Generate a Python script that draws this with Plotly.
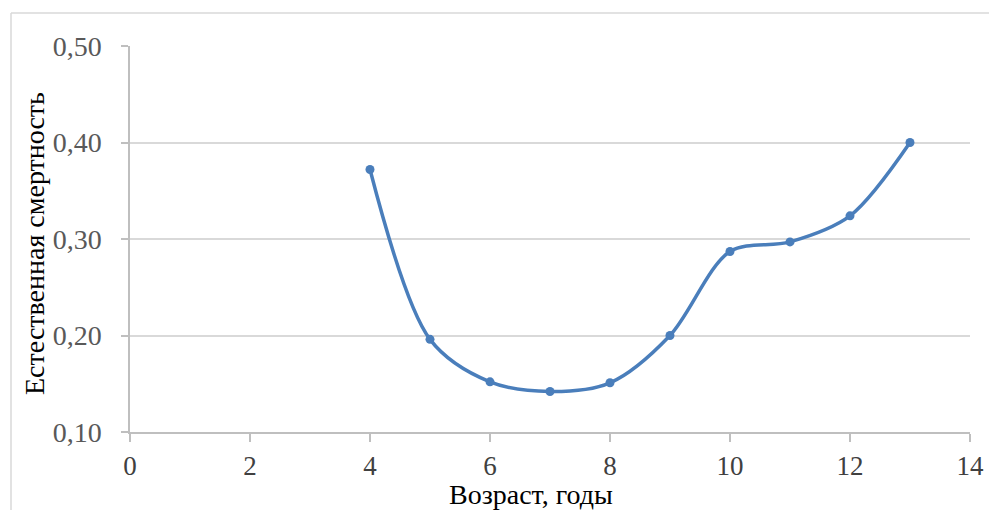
import plotly.graph_objects as go

age = [4, 5, 6, 7, 8, 9, 10, 11, 12, 13]
mortality = [0.372, 0.196, 0.152, 0.142, 0.151, 0.200, 0.287, 0.297, 0.324, 0.400]
x_ticks = [0, 2, 4, 6, 8, 10, 12, 14]
y_ticks = [0.10, 0.20, 0.30, 0.40, 0.50]
y_labels = ["0,10", "0,20", "0,30", "0,40", "0,50"]

FONT = "Liberation Serif, Times New Roman, serif"
BLUE = "#4a7ebb"

fig = go.Figure()
fig.add_trace(go.Scatter(
    x=age, y=mortality, mode="lines+markers",
    line=dict(color=BLUE, width=3.5, shape="spline", smoothing=0.9),
    marker=dict(color=BLUE, size=9),
    showlegend=False, cliponaxis=False, hoverinfo="skip",
))

fig.update_layout(
    width=989, height=510, autosize=False,
    margin=dict(l=130, r=19, t=46, b=78, pad=0),
    paper_bgcolor="white", plot_bgcolor="white",
    font=dict(family=FONT),
    xaxis=dict(
        range=[0, 14], tickvals=x_ticks, ticktext=[str(v) for v in x_ticks],
        showgrid=False, zeroline=False, automargin=False,
        showline=True, linecolor="#bfbfbf", linewidth=1.5,
        ticks="outside", ticklen=8, tickcolor="#bfbfbf", tickwidth=1.5,
        tickfont=dict(size=27, color="#404040", family=FONT),
        ticklabelstandoff=1,
    ),
    yaxis=dict(
        range=[0.10, 0.50], tickvals=y_ticks, ticktext=y_labels,
        showgrid=True, gridcolor="#d9d9d9", gridwidth=1.5, zeroline=False,
        automargin=False,
        showline=True, linecolor="#bfbfbf", linewidth=1.5,
        ticks="outside", ticklen=7, tickcolor="#bfbfbf", tickwidth=1.5,
        tickfont=dict(size=28, color="#595959", family=FONT),
        ticklabelstandoff=14,
    ),
    annotations=[
        dict(text="Возраст, годы", xref="paper", yref="paper",
             x=(531 - 130) / 840, y=(432 - 495) / 386, xanchor="center", yanchor="middle",
             showarrow=False, font=dict(size=28, color="#000000", family=FONT)),
        dict(text="Естественная смертность", xref="paper", yref="paper",
             x=(34 - 130) / 840, y=(432 - 244) / 386, xanchor="center", yanchor="middle",
             textangle=-90, showarrow=False,
             font=dict(size=28, color="#000000", family=FONT)),
    ],
    shapes=[
        dict(type="line", xref="paper", yref="paper",
             x0=(11 - 130) / 840, x1=(1000 - 130) / 840,
             y0=(432 - 13) / 386, y1=(432 - 13) / 386,
             line=dict(color="#d9d9d9", width=1.5)),
        dict(type="line", xref="paper", yref="paper",
             x0=(11 - 130) / 840, x1=(11 - 130) / 840,
             y0=(432 - 13) / 386, y1=(432 - 520) / 386,
             line=dict(color="#d9d9d9", width=1.5)),
    ],
)

fig.write_html("out.html", config={"displayModeBar": False, "responsive": False},
               post_script="document.body.style.margin='0px';")
